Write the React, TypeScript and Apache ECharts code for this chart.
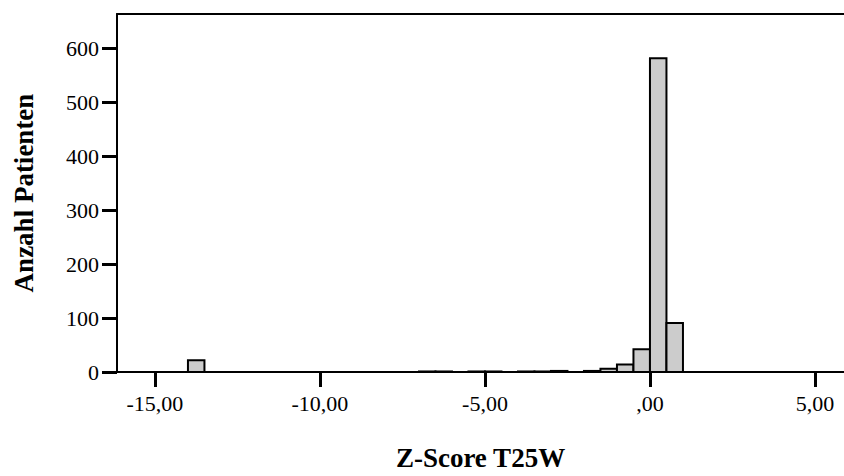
import React, { useEffect, useRef } from "react";
import * as echarts from "echarts";

const binStarts = [-14, -7, -6.5, -5.5, -5, -4, -3.5, -3, -2, -1.5, -1, -0.5, 0, 0.5];
const counts = [22, 1, 1, 1, 1, 1, 1, 2, 2, 6, 14, 42, 582, 91];
const binWidth = 0.5;
const xTicks = [-15, -10, -5, 0, 5];
const xTickLabels = ["-15,00", "-10,00", "-5,00", ",00", "5,00"];
const yTicks = [0, 100, 200, 300, 400, 500, 600];
const xTitle = "Z-Score T25W";
const yTitle = "Anzahl Patienten";

export default function App() {
  const ref = useRef<HTMLDivElement>(null);
  useEffect(() => {
    document.body.style.margin = "0";
    const chart = echarts.init(ref.current!, null, { renderer: "svg" });
    const font = "'Liberation Serif', 'Times New Roman', serif";
    const data = binStarts.map((s, i) => [s, counts[i]]);
    chart.setOption({
      animation: false,
      backgroundColor: "#ffffff",
      grid: { left: 117, top: 14, right: 0, bottom: 93, containLabel: false },
      xAxis: [
        {
          type: "value",
          min: -16.15,
          max: 5.88,
          splitLine: { show: false },
          axisLine: { show: true, onZero: false, lineStyle: { color: "#000", width: 2 } },
          axisTick: {
            show: true,
            customValues: xTicks,
            length: 15,
            inside: false,
            lineStyle: { color: "#000", width: 3 },
          },
          axisLabel: {
            customValues: xTicks,
            margin: 20,
            color: "#000",
            fontFamily: font,
            fontSize: 22,
            formatter: (v: number) => {
              const i = xTicks.indexOf(v);
              return i >= 0 ? xTickLabels[i] : "";
            },
          },
          name: xTitle,
          nameLocation: "middle",
          nameGap: 72,
          nameTextStyle: { color: "#000", fontFamily: font, fontSize: 27, fontWeight: "bold" },
        },
        {
          type: "value",
          position: "top",
          min: -16.15,
          max: 5.88,
          splitLine: { show: false },
          axisLine: { show: true, onZero: false, lineStyle: { color: "#000", width: 2 } },
          axisTick: { show: false },
          axisLabel: { show: false },
        },
      ],
      yAxis: {
        type: "value",
        min: 0,
        max: 664,
        splitLine: { show: false },
        axisLine: { show: true, onZero: false, lineStyle: { color: "#000", width: 2 } },
        axisTick: {
          show: true,
          customValues: yTicks,
          length: 15,
          lineStyle: { color: "#000", width: 3 },
        },
        axisLabel: {
          customValues: yTicks,
          margin: 18,
          color: "#000",
          fontFamily: font,
          fontSize: 22,
        },
        name: yTitle,
        nameLocation: "middle",
        nameGap: 80,
        nameTextStyle: { color: "#000", fontFamily: font, fontSize: 27, fontWeight: "bold" },
      },
      series: [
        {
          type: "custom",
          xAxisIndex: 0,
          data,
          renderItem: (params: any, api: any) => {
            const s = api.value(0);
            const c = api.value(1);
            const p1 = api.coord([s, c]);
            const p2 = api.coord([s + binWidth, 0]);
            return {
              type: "rect",
              shape: { x: p1[0], y: p1[1], width: p2[0] - p1[0], height: p2[1] - p1[1] },
              style: { fill: "#cccccc", stroke: "#000", lineWidth: 2 },
            };
          },
        },
      ],
    });
    return () => chart.dispose();
  }, []);
  return <div ref={ref} style={{ width: 844, height: 476 }} />;
}
